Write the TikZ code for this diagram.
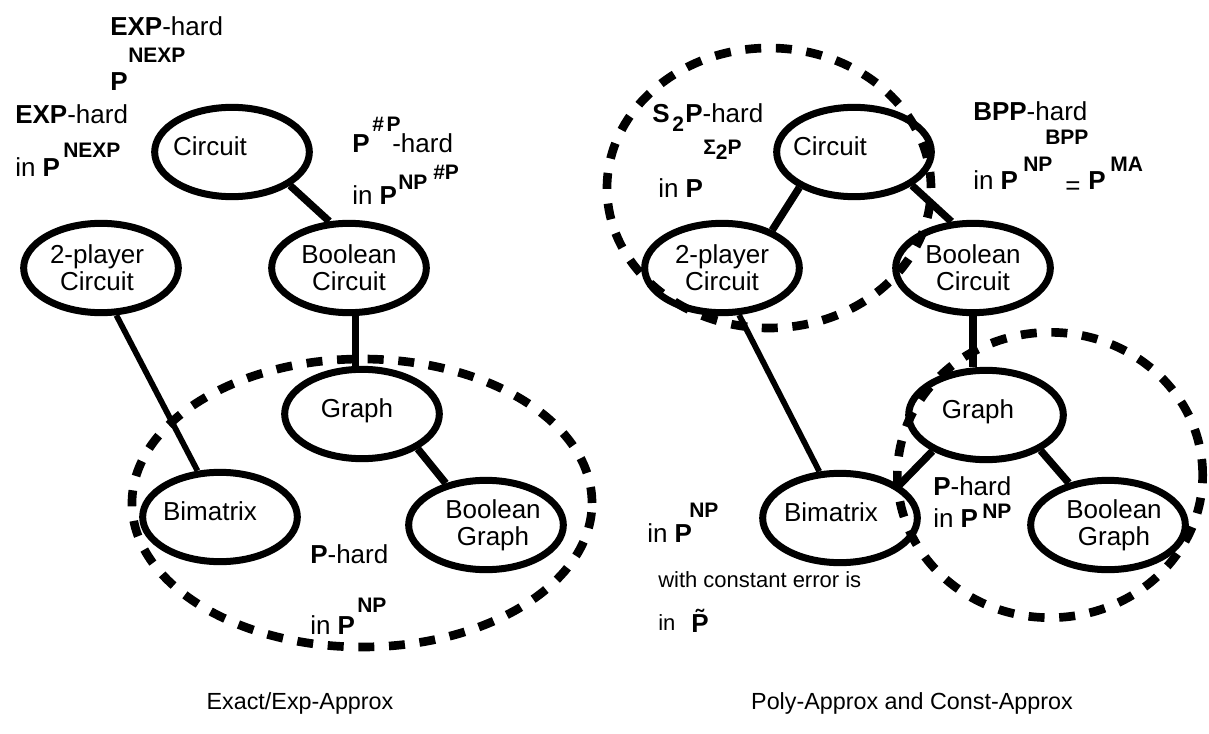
\documentclass[tikz,border=0pt]{standalone}
\usepackage{fontspec}
\setmainfont{Liberation Sans}
\usetikzlibrary{shapes.geometric}
\begin{document}
\begin{tikzpicture}[x=0.75pt,y=-0.75pt,
  st/.style={draw, line width=5.25pt, ellipse, minimum width=116pt, minimum height=67pt, inner sep=0pt, align=center, font=\fontsize{19.5}{20.5}\selectfont},
  oneline/.style={text depth=9pt},
  conn/.style={line width=5.6pt},
  connthin/.style={line width=4.3pt},
  dashring/.style={line width=6.5pt, dash pattern=on 12pt off 11pt},
  txt/.style={anchor=base west, inner sep=0pt, font=\fontsize{19.5}{22}\selectfont},
  suptxt/.style={anchor=base west, inner sep=0pt, font=\bfseries\fontsize{15.75}{18}\selectfont},
  smalltxt/.style={anchor=base west, inner sep=0pt, font=\fontsize{16.5}{19}\selectfont},
  captxt/.style={anchor=base, inner sep=0pt, font=\fontsize{17.5}{20}\selectfont}]
\useasboundingbox (0,0) rectangle (1209,734);

% ---------------- left diagram ----------------
\node[st,oneline] (cL)  at (232,152) {\kern-33pt Circuit};
\node[st] (tL)  at (101,268) {\kern-6pt 2-player\\\kern-6pt Circuit};
\node[st] (bcL) at (349,268) {Boolean\\Circuit};
\node[st,oneline] (gL)  at (362,414) {\kern-7.5pt Graph};
\node[st,oneline] (bmL) at (220,517) {\kern-15pt Bimatrix};
\node[st] (bgL) at (486,525) {Boolean\kern-10.5pt\\Graph\kern-10.5pt};

\draw[conn] (cL.-30) -- (bcL.113);
\draw[conn] (bcL.-82) -- (bcL.-82 |- gL.north);
\draw[connthin] (tL.-72) -- (bmL.116);
\draw[conn] (gL.-32) -- (bgL.134);

\draw[dashring] (362,503) ellipse [x radius=172.5pt, y radius=108pt];

\node[txt] (l1) at (110,36) {\textbf{EXP}-hard};
\node[suptxt] (l2) at (128,63) {NEXP};
\node[txt] (l3) at (110,91) {\textbf{P}};
\node[txt] (l4) at (15,124) {\textbf{EXP}-hard};
\node[suptxt] (l5) at (63,158) {NEXP};
\node[txt] (l6) at (15,177) {in \textbf{P}};
\node[txt] (l7) at (352,153) {\textbf{P}};
\node[suptxt] (l8) at (372,132) {\#\kern2pt P};
\node[txt] (l9) at (392,153) {-hard};
\node[txt] (l10) at (352,205) {in \textbf{P}};
\node[suptxt] (l11) at (398,190) {NP};
\node[suptxt] (l12) at (433,180) {\#P};
\node[txt] (l13) at (310,563) {\textbf{P}-hard};
\node[txt] (l14) at (310,634) {in \textbf{P}};
\node[suptxt] (l15) at (357,612) {NP};

% ---------------- right diagram ----------------
\node[st,oneline] (cR)  at (854,152) {\kern-36pt Circuit};
\node[st] (tR)  at (722,268) {2-player\\Circuit};
\node[st] (bcR) at (973,268) {Boolean\\Circuit};
\node[st,oneline] (gR)  at (986,415) {\kern-12pt Graph};
\node[st,oneline] (bmR) at (840,518) {\kern-13.5pt Bimatrix};
\node[st] (bgR) at (1108,525) {Boolean\kern-9pt\\Graph\kern-9pt};

\draw[conn] (cR.-147) -- (tR.37);
\draw[conn] (cR.-30) -- (bcR.115);
\draw[conn] (bcR.south) -- (bcR.south |- gR.north);
\draw[connthin] (tR.-70) -- (bmR.114);
\draw[conn] (gR.-146) -- (bmR.29);
\draw[conn] (gR.-33) -- (bgR.133);

\draw[dashring] (769,188) ellipse [x radius=121.5pt, y radius=105pt];
\draw[dashring] (1050,475) ellipse [x radius=114.5pt, y radius=107pt];

\node[txt] (r1) at (652,123) {\textbf{S}};
\node[suptxt] (r2) at (672,132) {2};
\node[txt] (r3) at (685,123) {\textbf{P}-hard};
\node[suptxt] (r4) at (703,155) {Σ\raisebox{-3.75pt}{2}P};
\node[txt] (r5) at (658,198) {in \textbf{P}};
\node[txt] (r6) at (973,121) {\textbf{BPP}-hard};
\node[suptxt] (r7) at (1045,145) {BPP};
\node[txt] (r8) at (973,190) {in \textbf{P}};
\node[suptxt] (r9) at (1023,172) {NP};
\node[txt] (r10) at (1065,195) {=};
\node[txt] (r11) at (1088,190) {\textbf{P}};
\node[suptxt] (r12) at (1110,172) {MA};
\node[txt] (r13) at (933,495) {\textbf{P}-hard};
\node[txt] (r14) at (933,527) {in \textbf{P}};
\node[suptxt] (r15) at (982,518) {NP};
\node[txt] (r16) at (647,542) {in \textbf{P}};
\node[suptxt] (r17) at (689,517) {NP};
\node[smalltxt] (r18) at (658,587) {with constant error is};
\node[smalltxt] (r19) at (658,630) {in};
\node[txt] (r20) at (691,632) {\textbf{\~{P}}};

% ---------------- captions ----------------
\node[captxt] (capL) at (300,709) {Exact/Exp-Approx};
\node[captxt] (capR) at (912,709) {Poly-Approx and Const-Approx};
\end{tikzpicture}
\end{document}
